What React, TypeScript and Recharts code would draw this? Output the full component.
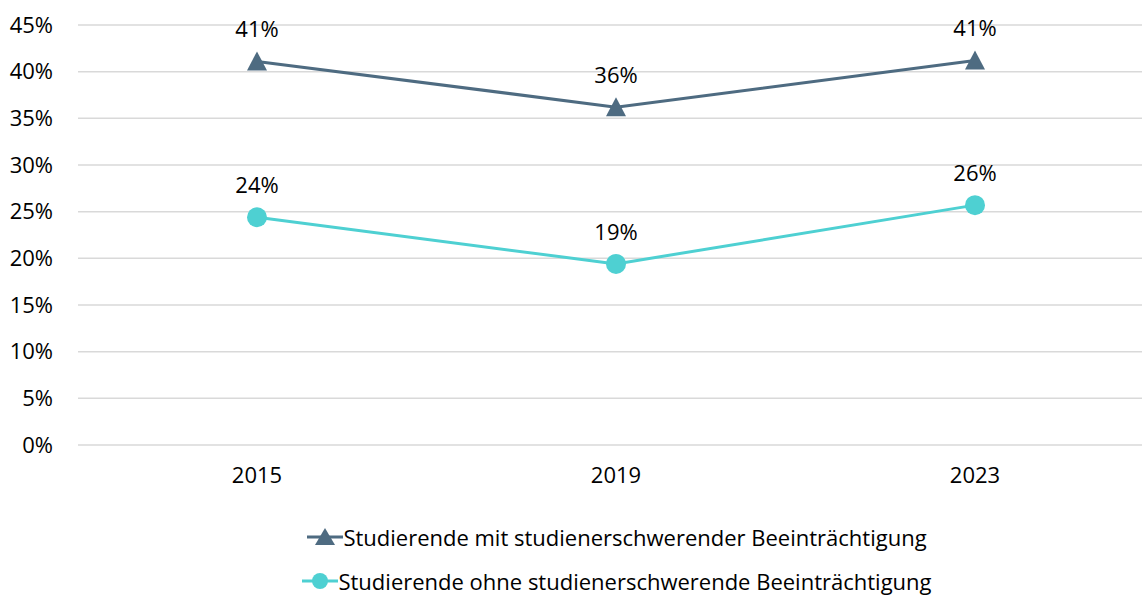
import React from "react";
import {
  LineChart,
  Line,
  XAxis,
  YAxis,
  CartesianGrid,
  Legend,
  LabelList,
} from "recharts";

const years = ["2015", "2019", "2023"];
const withImpairment = [0.411, 0.362, 0.412];
const withoutImpairment = [0.244, 0.194, 0.257];
const labelsWith = ["41%", "36%", "41%"];
const labelsWithout = ["24%", "19%", "26%"];
const yTicks = [0, 0.05, 0.1, 0.15, 0.2, 0.25, 0.3, 0.35, 0.4, 0.45];
const seriesNames = [
  "Studierende mit studienerschwerender Beeinträchtigung",
  "Studierende ohne studienerschwerende Beeinträchtigung",
];

const DARK = "#4E6B81";
const CYAN = "#4ED0D2";
const FONT = "'Open Sans', sans-serif";
const FS = 22;

const data = years.map((y, i) => ({
  year: y,
  a: withImpairment[i],
  b: withoutImpairment[i],
  la: labelsWith[i],
  lb: labelsWithout[i],
}));

const Triangle = (props: any) => {
  const { cx, cy } = props;
  if (cx == null || cy == null) return null;
  return (
    <polygon
      points={`${cx - 10},${cy + 9} ${cx + 10},${cy + 9} ${cx},${cy - 10}`}
      fill={DARK}
    />
  );
};

const Dot = (props: any) => {
  const { cx, cy } = props;
  if (cx == null || cy == null) return null;
  return <circle cx={cx} cy={cy} r={10} fill={CYAN} />;
};

const LegendContent = () => {
  const colors = [DARK, CYAN];
  return (
    <div style={{ paddingTop: 40, fontFamily: FONT }}>
      {seriesNames.map((n, i) => (
        <div
          key={n}
          style={{
            height: 44,
            display: "flex",
            alignItems: "center",
            justifyContent: "center",
            fontSize: FS,
            color: "#000",
            paddingLeft: 80,
          }}
        >
          <svg width={36} height={24} style={{ marginRight: 0 }}>
            <line x1={0} y1={12} x2={36} y2={12} stroke={colors[i]} strokeWidth={3} />
            {i === 0 ? (
              <polygon points="8,20 28,20 18,3" fill={colors[i]} />
            ) : (
              <circle cx={18} cy={12} r={8} fill={colors[i]} />
            )}
          </svg>
          <span>{n}</span>
        </div>
      ))}
    </div>
  );
};

export default function App() {
  return (
    <div style={{ position: "absolute", left: 0, top: 0, width: 1142, height: 597, overflow: "hidden", background: "#fff" }}>
      <LineChart
        width={1160}
        height={597}
        data={data}
        margin={{ top: 25, right: 6, left: 0, bottom: 0 }}
        style={{ fontFamily: FONT }}
      >
        <CartesianGrid vertical={false} stroke="#D9D9D9" strokeWidth={1.5} />
        <XAxis
          dataKey="year"
          axisLine={false}
          tickLine={false}
          tickSize={0}
          tickMargin={22}
          height={30}
          padding={{ left: 179, right: 179 }}
          tick={{ fill: "#000", fontSize: FS }}
        />
        <YAxis
          domain={[0, 0.45]}
          ticks={yTicks}
          width={78}
          axisLine={false}
          tickLine={false}
          tickSize={0}
          tickMargin={25}
          tickFormatter={(v: number) => `${Math.round(v * 100)}%`}
          tick={{ fill: "#000", fontSize: FS }}
        />
        <Legend
          verticalAlign="bottom"
          height={122}
          content={<LegendContent />}
        />
        <Line
          dataKey="a"
          name={seriesNames[0]}
          stroke={DARK}
          strokeWidth={3}
          dot={<Triangle />}
          activeDot={false}
          isAnimationActive={false}
        >
          <LabelList dataKey="la" position="top" offset={24} fill="#000" fontSize={FS} />
        </Line>
        <Line
          dataKey="b"
          name={seriesNames[1]}
          stroke={CYAN}
          strokeWidth={3}
          dot={<Dot />}
          activeDot={false}
          isAnimationActive={false}
        >
          <LabelList dataKey="lb" position="top" offset={24} fill="#000" fontSize={FS} />
        </Line>
      </LineChart>
    </div>
  );
}
